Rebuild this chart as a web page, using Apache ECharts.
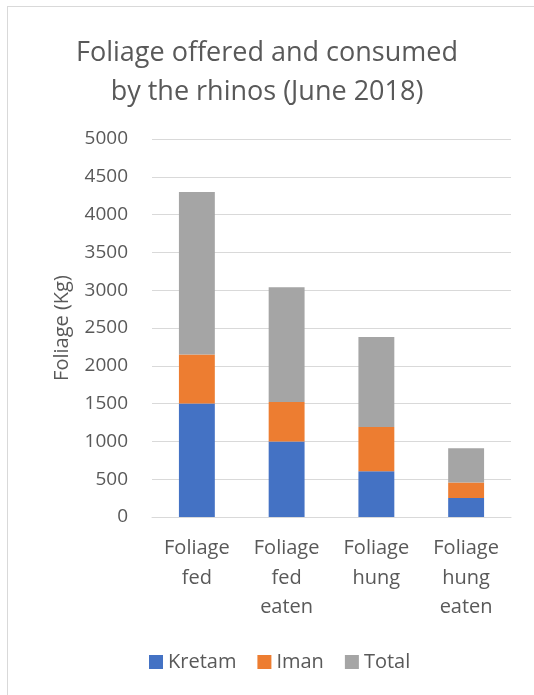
<!DOCTYPE html>
<html>
<head>
<meta charset="utf-8">
<script src="https://cdn.jsdelivr.net/npm/echarts@6/dist/echarts.min.js"></script>
<style>
  html, body { margin: 0; padding: 0; background: #fff; }
  #frame { position: absolute; left: 7px; top: 6px; width: 560px; height: 720px; border: 1px solid #d9d9d9; box-sizing: border-box; }
  #chart { position: absolute; left: 0; top: 0; width: 534px; height: 695px; }
</style>
</head>
<body>
<div id="frame"></div>
<div id="chart"></div>
<script>
// Foliage quantities (kg) per category, stacked by rhino
const categories = ['Foliage\nfed', 'Foliage\nfed\neaten', 'Foliage\nhung', 'Foliage\nhung\neaten'];
const kretam = [1500, 1000, 605, 250];
const iman = [650, 520, 585, 205];
const total = [2150, 1520, 1190, 455];
const yTicks = { min: 0, max: 5000, interval: 500 };

const FONT = '"Open Sans", "Liberation Sans", sans-serif';
const TEXT = '#595959';

const chart = echarts.init(document.getElementById('chart'), null, { renderer: 'canvas' });

function barSeries(name, data, color) {
  return {
    name: name,
    type: 'bar',
    stack: 'foliage',
    data: data,
    barWidth: '40%',
    itemStyle: { color: color },
    emphasis: { disabled: true }
  };
}

chart.setOption({
  animation: false,
  textStyle: { fontFamily: FONT },
  title: {
    text: 'Foliage offered and consumed\nby the rhinos (June 2018)',
    left: 'center',
    top: 29,
    textStyle: { fontFamily: FONT, fontSize: 27, fontWeight: 'normal', color: TEXT, lineHeight: 39 }
  },
  grid: { left: 152, right: 23, top: 139, bottom: 178 },
  legend: {
    top: 647,
    left: 144,
    itemWidth: 14,
    itemHeight: 14,
    itemGap: 21,
    icon: 'rect',
    textStyle: { fontFamily: FONT, fontSize: 20, color: TEXT },
    data: ['Kretam', 'Iman', 'Total']
  },
  xAxis: {
    type: 'category',
    data: categories,
    axisLine: { lineStyle: { color: '#d9d9d9', width: 1 } },
    axisTick: { show: false },
    axisLabel: { fontFamily: FONT, fontSize: 20, color: TEXT, lineHeight: 29.5, margin: 17, interval: 0 }
  },
  yAxis: {
    type: 'value',
    min: yTicks.min,
    max: yTicks.max,
    interval: yTicks.interval,
    name: 'Foliage (Kg)',
    nameLocation: 'middle',
    nameGap: 80,
    nameTextStyle: { fontFamily: FONT, fontSize: 20, color: TEXT },
    axisLine: { show: false },
    axisTick: { show: false },
    axisLabel: { fontFamily: FONT, fontSize: 19, color: TEXT, margin: 24, formatter: function (v) { return String(v); } },
    splitLine: { lineStyle: { color: '#d9d9d9', width: 1 } }
  },
  series: [
    barSeries('Kretam', kretam, '#4472C4'),
    barSeries('Iman', iman, '#ED7D31'),
    barSeries('Total', total, '#A5A5A5')
  ]
});
</script>
</body>
</html>
